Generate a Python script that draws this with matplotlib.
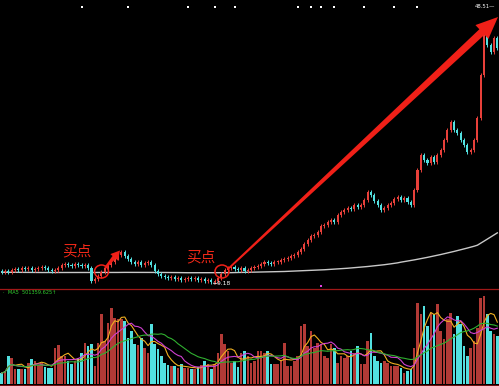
import matplotlib
matplotlib.use("Agg")
import matplotlib.pyplot as plt
import numpy as np
import pandas as pd
from matplotlib.patches import Polygon, Ellipse

# closing prices, one per trading day
closes = [10.78, 10.92, 10.78, 11.07, 11.21, 11.07, 11.36, 11.21, 11.36, 11.07,
          11.21, 11.36, 11.50, 11.36, 11.07, 10.92, 11.07, 11.36, 11.79, 11.94,
          11.79, 11.65, 11.94, 11.79, 11.65, 11.79, 11.36, 9.47, 9.76, 10.20,
          10.78, 11.36, 11.79, 12.23, 12.81, 13.24, 13.68, 13.10, 12.66, 12.23,
          11.94, 12.23, 11.79, 12.08, 12.23, 11.79, 10.92, 10.49, 10.20, 10.05,
          9.91, 10.05, 9.76, 9.91, 9.62, 9.76, 9.91, 9.76, 9.91, 9.62,
          9.76, 9.47, 9.62, 9.33, 9.47, 9.91, 10.49, 11.07, 11.36, 11.50,
          11.21, 11.07, 11.36, 10.92, 11.07, 11.36, 11.50, 11.65, 11.94, 12.23,
          12.08, 11.94, 12.23, 12.23, 12.52, 12.66, 12.81, 13.10, 13.24, 13.68,
          14.11, 14.84, 15.42, 15.99, 16.14, 16.58, 17.45, 17.59, 18.03, 18.32,
          18.03, 19.04, 19.48, 19.77, 20.06, 19.91, 20.49, 20.20, 20.49, 21.22,
          22.38, 21.94, 21.07, 20.49, 19.77, 20.06, 20.49, 20.78, 21.36, 21.65,
          21.22, 21.51, 20.93, 20.49, 22.67, 25.57, 27.74, 27.02, 26.58, 27.45,
          26.73, 27.74, 28.47, 29.92, 31.37, 32.53, 31.37, 30.93, 29.92, 29.19,
          28.18, 28.47, 29.92, 33.11, 39.34, 45.14, 43.69, 42.68, 44.71, 43.26]
first_open = 10.92

# long moving average of price (grey line)
ma_long = [10.74, 10.74, 10.73, 10.73, 10.73, 10.72, 10.72, 10.72, 10.71, 10.71,
           10.71, 10.70, 10.70, 10.70, 10.70, 10.69, 10.69, 10.69, 10.69, 10.69,
           10.69, 10.69, 10.69, 10.69, 10.70, 10.70, 10.70, 10.70, 10.70, 10.70,
           10.70, 10.70, 10.71, 10.71, 10.71, 10.71, 10.72, 10.72, 10.72, 10.72,
           10.72, 10.72, 10.72, 10.72, 10.72, 10.72, 10.71, 10.71, 10.71, 10.70,
           10.70, 10.70, 10.69, 10.69, 10.68, 10.68, 10.67, 10.67, 10.66, 10.66,
           10.66, 10.66, 10.66, 10.66, 10.66, 10.67, 10.67, 10.67, 10.68, 10.68,
           10.69, 10.69, 10.70, 10.71, 10.72, 10.73, 10.74, 10.75, 10.76, 10.77,
           10.78, 10.80, 10.81, 10.82, 10.84, 10.85, 10.87, 10.88, 10.90, 10.92,
           10.94, 10.96, 10.98, 11.00, 11.03, 11.05, 11.08, 11.10, 11.13, 11.16,
           11.19, 11.22, 11.25, 11.29, 11.32, 11.36, 11.40, 11.44, 11.48, 11.52,
           11.57, 11.62, 11.67, 11.72, 11.77, 11.83, 11.89, 11.96, 12.03, 12.10,
           12.20, 12.28, 12.36, 12.44, 12.53, 12.62, 12.71, 12.80, 12.90, 13.00,
           13.10, 13.20, 13.31, 13.42, 13.53, 13.64, 13.76, 13.88, 14.00, 14.12,
           14.25, 14.38, 14.51, 14.66, 14.95, 15.25, 15.55, 15.85, 16.15, 16.45]

# daily volume (10k shares)
volumes = [22, 26, 56, 52, 30, 30, 30, 30, 42, 50,
           46, 38, 42, 34, 32, 32, 72, 78, 56, 56,
           46, 40, 46, 52, 62, 82, 76, 80, 36, 82,
           140, 86, 122, 152, 132, 130, 130, 126, 92, 106,
           80, 78, 92, 72, 62, 120, 80, 70, 56, 42,
           38, 36, 36, 32, 40, 32, 32, 30, 30, 34,
           38, 46, 40, 30, 40, 62, 100, 80, 66, 42,
           46, 34, 62, 66, 56, 42, 46, 66, 66, 62,
           66, 40, 40, 40, 46, 82, 36, 36, 46, 56,
           116, 120, 76, 106, 72, 82, 80, 56, 52, 80,
           72, 42, 56, 52, 56, 66, 62, 76, 40, 40,
           86, 102, 56, 46, 42, 46, 42, 36, 36, 36,
           32, 22, 26, 30, 72, 162, 140, 156, 116, 142,
           140, 160, 106, 90, 130, 142, 100, 136, 120, 76,
           56, 72, 86, 112, 172, 176, 140, 106, 100, 96]

# days carrying an info marker at the top
marker_days = [24, 38, 56, 64, 70, 89, 93, 96, 100, 109, 118, 125]
low_price = 9.18
high_label = "48.51"
buy_text = "买点"

UP = "#e8403a"
DOWN = "#52e0e0"
BG = "black"

n = len(closes)
idx = np.arange(n)
c = np.array(closes)
o = np.array([first_open] + closes[:-1])
hi = np.maximum(o, c) + 0.3
lo = np.minimum(o, c) - 0.3
up = c >= o

fig = plt.figure(figsize=(4.99, 3.86), dpi=100, facecolor=BG)
H = 386.0

ax = fig.add_axes([0, 1 - 288 / H, 1, 288 / H], facecolor=BG)
ax.set_xlim(-0.5, n - 0.5)
ax.set_ylim(9.18 - 5 * 0.145, 9.18 + 283 * 0.145)
ax.axis("off")

for i in range(n):
    col = UP if up[i] else DOWN
    ax.vlines(i, lo[i], hi[i], color=col, lw=0.7, zorder=2)
    bottom = min(o[i], c[i])
    height = max(abs(c[i] - o[i]), 0.08)
    ax.bar(i, height, bottom=bottom, width=0.62, color=col, lw=0, zorder=3)

ax.plot(idx, ma_long, color="#c8c8c8", lw=1.0, zorder=1)

ax.scatter(marker_days, [9.18 + 276 * 0.145] * len(marker_days), marker="s",
           s=3, color="white", lw=0)
ax.scatter([96], [8.75], marker="s", s=3, color="#e040e0", lw=0)
ax.text(63.6, low_price - 0.05, "←" + f"{low_price:.2f}", color="white",
        fontsize=4.3, va="center", ha="left")

vax = fig.add_axes([0, 2 / H, 1, 95 / H], facecolor=BG)
vax.set_xlim(-0.5, n - 0.5)
vax.set_ylim(0, 190)
vax.axis("off")
vcols = ["#b23a36" if u else DOWN for u in up]
vax.bar(idx, volumes, width=0.78, color=vcols, lw=0)
vs = pd.Series(volumes)
vax.plot(idx, vs.rolling(5, min_periods=1).mean(), color="#f0b020", lw=0.8)
vax.plot(idx, vs.rolling(10, min_periods=1).mean(), color="#d040d0", lw=0.8)
vax.plot(idx, vs.rolling(20, min_periods=1).mean(), color="#30b030", lw=0.8)

# overlay in pixel coordinates for annotations
ov = fig.add_axes([0, 0, 1, 1], facecolor="none")
ov.set_xlim(0, 499)
ov.set_ylim(H, 0)
ov.axis("off")

ov.axhline(288.6, color="#a01818", lw=0.9)
ov.axhline(384.5, color="#701010", lw=0.8)
ov.text(3, 293, "·  MA5  501359.625↑", color="#30d030", fontsize=3.6,
        va="center", ha="left")
ov.text(475, 7, high_label + "—", color="white", fontsize=3.8, va="center",
        ha="left")


def taper_arrow(x0, y0, x1, y1, w0, w1, hw, hl, color):
    d = np.array([x1 - x0, y1 - y0], float)
    L = np.hypot(*d)
    u = d / L
    nrm = np.array([-u[1], u[0]])
    p0 = np.array([x0, y0], float)
    tip = np.array([x1, y1], float)
    base = tip - u * hl
    pts = [p0 + nrm * w0 / 2, base + nrm * w1 / 2, base + nrm * hw / 2, tip,
           base - nrm * hw / 2, base - nrm * w1 / 2, p0 - nrm * w0 / 2]
    ov.add_patch(Polygon(pts, closed=True, color=color, lw=0, zorder=5))


taper_arrow(228, 269, 498, 17, 1.8, 7.5, 19, 22, "#f02018")
taper_arrow(105, 268, 120, 250.5, 2.0, 4.2, 10, 9, "#f02018")

ov.add_patch(Ellipse((101.5, 271.5), 14, 13, fill=False, ec="#f02018", lw=1.1, zorder=6))
ov.add_patch(Ellipse((222, 271.5), 14, 13, fill=False, ec="#f02018", lw=1.1, zorder=6))

for x, y in [(77, 251), (201, 257)]:
    ov.text(x, y, buy_text, color="#f02818", fontsize=10.5,
            family=["Noto Sans CJK SC", "DejaVu Sans"], ha="center", va="center")

fig.savefig("out.png", dpi=100, facecolor=BG)
